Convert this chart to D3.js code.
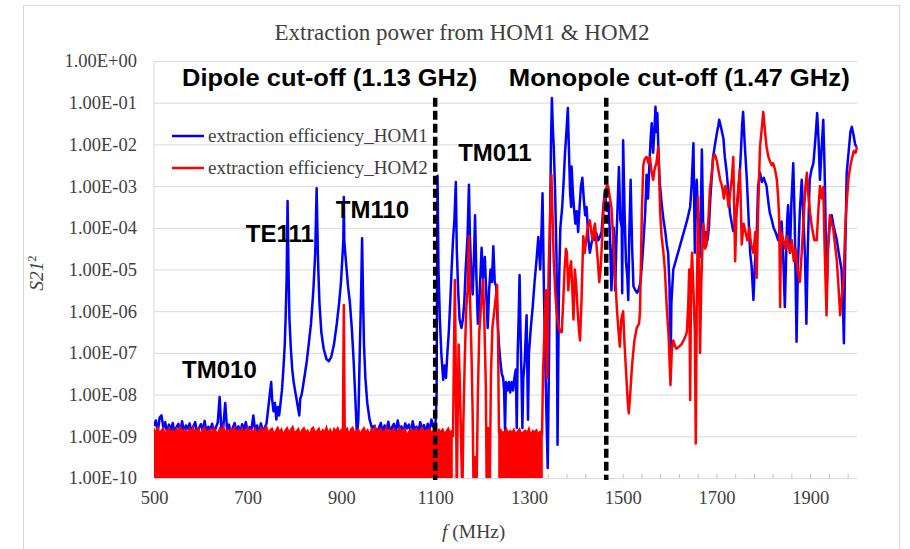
<!DOCTYPE html>
<html>
<head>
<meta charset="utf-8">
<script src="https://cdn.jsdelivr.net/npm/d3@7"></script>
<style>
  body { margin: 0; background: #fff; }
  svg { display: block; }
</style>
</head>
<body>
<svg width="910" height="549"></svg>
<script>
// S21^2 values are written as log10 exponents (e.g. -3.4 -> 4e-4)

const xTickLabels = [500, 700, 900, 1100, 1300, 1500, 1700, 1900];
const xMinorTicks = d3.range(500, 2000, 40);
const yTickExponents = [0, -1, -2, -3, -4, -5, -6, -7, -8, -9, -10];
const seriesNames = ['extraction efficiency_HOM1', 'extraction efficiency_HOM2'];
const cutoffFreqs = [1100, 1465];
const cutoffNames = ['Dipole cut-off (1.13 GHz)', 'Monopole cut-off (1.47 GHz)'];
const modeNames = ['TM010', 'TE111', 'TM110', 'TM011'];

// HOM1 noise floor, 500..740 MHz every 4 MHz
const hom1FloorLowStart = 500;
const hom1FloorLow = [
  -8.75,-8.62,-8.90,-8.55,-8.50,-8.80,-8.66,-8.93,-8.72,-8.85,
  -8.68,-8.95,-8.78,-8.70,-8.88,-8.64,-8.92,-8.74,-8.82,-8.69,
  -8.90,-8.76,-8.66,-8.94,-8.80,-8.71,-8.87,-8.63,-8.91,-8.77,
  -8.84,-8.70,-8.93,-8.79,-8.67,-8.06,-8.90,-8.75,-8.20,-8.86,
  -8.72,-8.94,-8.80,-8.68,-8.89,-8.76,-8.92,-8.71,-8.85,-8.66,
  -8.93,-8.78,-8.83,-8.50,-8.90,-8.74,-8.95,-8.69,-8.87,-8.80,
  -8.70
];

// HOM1 dipole modes region (MHz, exponent)
const hom1Modes = [
  [744,-8.3],[748,-7.9],[750,-7.7],[752,-8.1],[755,-8.4],[758,-8.2],[761,-8.6],[764,-8.3],
  [767,-8.5],[770,-8.2],[773,-7.9],[776,-7.4],[779,-6.8],[781,-6.1],[783,-5.2],[785,-3.36],
  [787,-5.0],[789,-6.2],[792,-6.9],[795,-7.4],[798,-7.7],[801,-7.9],[804,-8.1],[807,-8.3],
  [810,-8.5],[812,-8.1],[815,-8.0],[818,-7.8],[822,-7.5],[826,-7.2],[830,-6.8],[835,-6.3],
  [840,-5.5],[844,-4.6],[847,-3.05],[850,-4.8],[853,-5.8],[857,-6.5],[862,-6.9],[868,-7.15],
  [873,-7.2],[878,-7.1],[884,-6.8],[890,-6.3],[895,-5.8],[899,-5.3],[902,-4.7],[904,-4.3],
  [905,-3.26],[906,-4.3],[908,-4.6],[911,-5.0],[914,-5.4],[918,-5.8],[922,-6.4],[926,-7.2],
  [930,-8.2],[933,-9.0],[936,-8.6],[939,-7.0],[942,-5.5],[944,-4.25],[946,-5.6],[948,-6.8],
  [951,-7.6],[955,-8.2],[960,-8.6],[965,-8.8],[970,-8.75],[975,-8.9]
];

// HOM1 noise floor, 980..1100 MHz every 4 MHz
const hom1FloorHighStart = 980;
const hom1FloorHigh = [
  -8.80,-8.68,-8.92,-8.74,-8.86,-8.65,-8.94,-8.78,-8.70,-8.90,
  -8.62,-8.85,-8.76,-8.93,-8.69,-8.81,-8.72,-8.95,-8.64,-8.88,
  -8.77,-8.90,-8.66,-8.84,-8.73,-8.92,-8.70,-8.86,-8.60,-8.78,
  -8.90
];

// HOM1 above the dipole cut-off (MHz, exponent)
const hom1Upper = [
  [1103,-8.0],[1105,-2.75],[1107,-5.0],[1110,-6.2],[1113,-7.0],[1117,-7.65],[1120,-7.3],[1123,-7.6],
  [1126,-7.0],[1129,-6.5],[1132,-5.8],[1135,-5.0],[1138,-4.3],[1141,-3.8],[1144,-2.9],[1146,-4.5],
  [1149,-5.5],[1152,-6.2],[1156,-6.4],[1159,-6.2],[1162,-5.8],[1165,-5.0],[1169,-4.2],[1172,-2.97],
  [1174,-4.17],[1177,-5.1],[1180,-5.6],[1183,-4.6],[1185,-3.7],[1188,-5.2],[1191,-6.3],[1194,-5.8],
  [1197,-5.0],[1199,-4.48],[1202,-5.2],[1206,-4.7],[1209,-5.6],[1212,-6.4],[1215,-5.5],[1218,-5.0],
  [1221,-5.3],[1224,-4.44],[1227,-5.3],[1230,-5.4],[1233,-6.2],[1236,-6.8],[1239,-7.2],[1242,-7.5],
  [1245,-7.6],[1247,-7.9],[1249,-8.85],[1251,-7.7],[1254,-7.9],[1257,-7.7],[1260,-7.95],[1263,-7.7],
  [1266,-7.9],[1269,-7.6],[1272,-7.4],[1274,-8.8],[1276,-7.0],[1278,-6.2],[1280,-5.13],[1282,-6.5],
  [1284,-7.5],[1286,-8.8],[1288,-7.6],[1291,-7.2],[1293,-6.6],[1295,-6.1],[1298,-8.6],[1300,-7.0],
  [1304,-6.4],[1308,-5.9],[1312,-5.3],[1316,-4.8],[1320,-4.22],[1324,-5.0],[1327,-4.0],[1329,-3.17],
  [1332,-5.5],[1335,-7.3],[1340,-9.76],[1343,-7.0],[1345,-4.0],[1347,-2.0],[1349,-0.89],[1351,-1.6],
  [1353,-2.06],[1356,-3.2],[1359,-4.8],[1361,-9.2],[1364,-5.5],[1367,-4.0],[1371,-3.5],[1374,-2.9],
  [1377,-2.2],[1380,-1.7],[1383,-1.13],[1385,-2.0],[1388,-3.2],[1390,-3.5],[1391,-2.53],[1394,-3.2],
  [1396,-3.5],[1399,-3.9],[1402,-3.6],[1405,-4.1],[1408,-3.5],[1411,-3.0],[1414,-2.8],[1417,-3.3],
  [1420,-3.7],[1423,-3.5],[1427,-4.3],[1430,-4.6],[1433,-4.4],[1437,-4.2],[1441,-4.3],[1444,-4.13],
  [1448,-4.3],[1452,-4.2],[1455,-4.1],[1458,-3.6],[1462,-3.1],[1466,-3.6],[1470,-3.4],[1473,-4.2],
  [1476,-5.5],[1479,-4.6],[1481,-4.0],[1484,-5.5],[1487,-4.2],[1490,-3.2],[1492,-2.54],[1495,-3.8],
  [1498,-4.0],[1499,-5.57],[1501,-1.9],[1504,-3.6],[1507,-4.8],[1510,-5.2],[1512,-5.73],[1514,-4.2],
  [1517,-2.85],[1520,-4.4],[1523,-5.4],[1527,-5.5],[1531,-5.56],[1535,-5.45],[1538,-5.3],[1541,-4.9],
  [1544,-4.4],[1548,-3.65],[1551,-2.73],[1554,-3.3],[1557,-2.5],[1560,-1.8],[1562,-1.49],[1565,-2.2],
  [1568,-1.6],[1570,-1.1],[1572,-1.7],[1574,-1.25],[1576,-2.06],[1579,-2.9],[1583,-3.4],[1587,-3.8],
  [1591,-4.1],[1594,-4.4],[1597,-4.6],[1600,-5.4],[1602,-7.5],[1604,-5.8],[1608,-5.0],[1613,-4.8],
  [1618,-4.6],[1623,-4.4],[1628,-4.2],[1633,-4.0],[1638,-3.8],[1642,-3.6],[1644,-3.5],[1647,-3.0],
  [1651,-1.97],[1654,-4.6],[1656,-3.4],[1658,-2.85],[1661,-3.8],[1665,-4.7],[1667,-3.5],[1669,-2.12],
  [1672,-4.1],[1675,-4.4],[1678,-4.1],[1681,-4.3],[1684,-4.0],[1687,-3.3],[1690,-2.8],[1693,-2.3],
  [1697,-2.0],[1701,-1.73],[1704,-1.55],[1706,-1.41],[1710,-1.6],[1715,-1.86],[1718,-2.3],[1722,-2.68],
  [1726,-3.2],[1729,-3.65],[1733,-3.9],[1736,-4.08],[1740,-3.9],[1744,-3.5],[1747,-3.1],[1750,-2.68],
  [1753,-2.0],[1755,-1.5],[1757,-1.22],[1760,-1.9],[1765,-2.85],[1768,-3.6],[1772,-4.6],[1775,-4.9],
  [1779,-5.73],[1782,-4.9],[1786,-4.2],[1789,-3.0],[1793,-2.68],[1797,-2.9],[1801,-2.8],[1804,-2.9],
  [1807,-3.0],[1811,-3.4],[1814,-3.65],[1818,-3.8],[1822,-4.0],[1826,-4.1],[1829,-4.2],[1832,-4.3],
  [1835,-4.0],[1839,-3.85],[1842,-4.5],[1846,-5.9],[1849,-4.6],[1851,-3.8],[1853,-3.46],[1857,-4.6],
  [1860,-3.4],[1864,-2.45],[1867,-3.8],[1869,-5.2],[1871,-6.73],[1874,-4.9],[1878,-3.6],[1882,-2.85],
  [1885,-3.6],[1889,-4.7],[1892,-6.3],[1895,-4.5],[1899,-2.85],[1903,-2.6],[1907,-2.45],[1911,-1.9],
  [1915,-1.25],[1918,-1.9],[1921,-2.85],[1925,-2.0],[1928,-1.41],[1930,-2.2],[1932,-3.2],[1935,-5.6],
  [1938,-4.5],[1942,-3.9],[1946,-3.7],[1949,-3.9],[1953,-4.1],[1957,-4.3],[1961,-4.6],[1964,-4.8],
  [1967,-5.0],[1970,-5.8],[1972,-6.77],[1975,-4.5],[1978,-2.68],[1982,-2.2],[1986,-1.7],[1989,-1.58],
  [1993,-1.8],[1996,-2.0],[1999,-2.06]
];

// HOM2 noise floor tops (filled band), 500..1136 MHz every 4 MHz
const hom2FloorLowStart = 500;
const hom2FloorLow = [
  -8.82,-8.90,-8.78,-8.93,-8.85,-8.80,-8.95,-8.87,-8.79,-8.91,-8.84,-8.97,-8.81,-8.88,-8.76,-8.92,-8.86,-8.83,-8.94,-8.80,
  -8.89,-8.77,-8.93,-8.85,-8.81,-8.96,-8.84,-8.78,-8.90,-8.87,-8.82,-8.95,-8.79,-8.88,-8.92,-8.80,-8.86,-8.74,-8.91,-8.84,
  -8.93,-8.81,-8.87,-8.78,-8.95,-8.83,-8.89,-8.80,-8.92,-8.86,-8.77,-8.94,-8.84,-8.90,-8.81,-8.96,-8.85,-8.79,-8.88,-8.83,
  -8.75,-8.91,-8.84,-8.80,-8.93,-8.86,-8.78,-8.89,-8.82,-8.95,-8.85,-8.79,-8.90,-8.83,-8.76,-8.92,-8.87,-8.81,-8.94,-8.84,
  -8.79,-8.90,-8.85,-8.97,-8.82,-8.78,-8.91,-8.86,-8.80,-8.93,-8.84,-8.89,-8.77,-8.92,-8.83,-8.95,-8.81,-8.87,-8.79,-8.90,
  -8.84,-8.92,-8.86,-8.80,-8.95,-8.83,-8.78,-8.91,-8.87,-8.82,-8.94,-8.85,-8.79,-8.90,-8.84,-8.96,-8.81,-8.88,-8.76,-8.93,
  -8.85,-8.80,-8.92,-8.87,-8.78,-8.94,-8.83,-8.89,-8.81,-8.95,-8.86,-8.79,-8.91,-8.84,-8.82,-8.97,-8.88,-8.80,-8.93,-8.85,
  -8.81,-8.90,-8.86,-8.78,-8.94,-8.84,-8.88,-8.80,-8.92,-8.85,-8.79,-8.96,-8.83,-8.89,-8.82,-8.93,-8.87,-8.80,-8.91,-8.86
];

// HOM2 second noise floor band, 1236..1328 MHz every 4 MHz
const hom2FloorMidStart = 1236;
const hom2FloorMid = [
  -8.90,-8.84,-8.95,-8.88,-8.81,-8.93,-8.86,-8.91,-8.83,-8.97,-8.87,-8.82,
  -8.94,-8.89,-8.85,-8.92,-8.80,-8.96,-8.86,-8.90,-8.84,-8.93,-8.88,-8.95
];

// HOM2 single peak below the dipole cut-off
const hom2Spike = [[903,-9.0],[905,-5.85],[907,-9.0]];

// HOM2 above 1136 MHz (MHz, exponent)
const hom2Upper = [
  [1136,-8.86],[1138,-9.0],[1140,-7.0],[1142,-5.25],[1144,-7.5],[1146,-10.5],[1148,-8.5],[1150,-6.8],
  [1152,-7.5],[1155,-9.0],[1158,-10.5],[1160,-8.7],[1163,-7.2],[1166,-6.0],[1169,-5.5],[1172,-4.2],
  [1174,-5.6],[1177,-6.8],[1180,-8.5],[1182,-10.5],[1185,-9.5],[1188,-10.5],[1191,-8.0],[1194,-6.5],
  [1197,-6.0],[1200,-5.6],[1202,-5.25],[1205,-6.3],[1208,-7.8],[1210,-10.5],[1213,-8.8],[1216,-10.5],
  [1219,-7.5],[1222,-6.4],[1226,-6.0],[1230,-5.6],[1232,-5.37],[1234,-6.5],[1236,-8.9],[1328,-8.95],
  [1330,-7.5],[1333,-6.5],[1336,-5.5],[1339,-7.6],[1342,-5.0],[1345,-3.8],[1348,-2.73],[1350,-3.6],
  [1353,-4.8],[1356,-5.5],[1359,-6.0],[1362,-6.3],[1366,-6.5],[1370,-6.5],[1373,-5.8],[1376,-5.0],
  [1379,-4.5],[1381,-4.6],[1384,-5.5],[1387,-5.0],[1390,-4.8],[1393,-5.6],[1395,-6.2],[1398,-5.0],
  [1401,-5.4],[1404,-6.0],[1407,-6.5],[1409,-6.7],[1412,-5.8],[1414,-5.0],[1416,-4.2],[1419,-4.6],
  [1422,-4.3],[1425,-4.0],[1428,-3.9],[1430,-3.82],[1433,-4.1],[1436,-4.3],[1439,-4.0],[1441,-3.9],
  [1444,-4.4],[1447,-4.8],[1450,-5.3],[1453,-5.0],[1456,-4.3],[1459,-3.6],[1462,-3.2],[1466,-3.0],
  [1469,-3.0],[1473,-3.3],[1476,-3.5],[1480,-4.3],[1484,-5.2],[1488,-6.0],[1492,-6.6],[1494,-6.85],
  [1497,-6.2],[1501,-6.0],[1504,-6.8],[1508,-7.6],[1511,-8.2],[1513,-8.45],[1516,-8.0],[1520,-7.3],
  [1525,-6.7],[1530,-6.4],[1535,-6.3],[1537,-6.0],[1539,-4.8],[1541,-3.6],[1544,-2.5],[1547,-2.35],
  [1551,-2.3],[1555,-2.45],[1558,-2.3],[1561,-2.6],[1565,-2.85],[1568,-2.6],[1572,-2.45],[1576,-2.06],
  [1578,-2.8],[1580,-3.65],[1583,-4.2],[1587,-4.6],[1590,-5.0],[1594,-5.9],[1598,-6.6],[1602,-7.77],
  [1605,-6.9],[1608,-6.7],[1612,-6.85],[1615,-6.9],[1620,-6.85],[1625,-6.8],[1630,-6.7],[1634,-6.6],
  [1637,-6.5],[1640,-5.8],[1642,-5.0],[1644,-8.13],[1646,-5.2],[1648,-4.6],[1651,-5.5],[1654,-6.5],
  [1656,-9.17],[1658,-6.0],[1661,-3.26],[1663,-5.0],[1665,-7.0],[1668,-5.2],[1672,-3.9],[1676,-4.5],
  [1679,-4.4],[1683,-3.8],[1686,-3.1],[1690,-2.7],[1693,-2.3],[1697,-2.25],[1701,-2.4],[1704,-2.6],
  [1708,-2.85],[1712,-3.0],[1716,-3.3],[1719,-3.0],[1722,-3.1],[1726,-3.5],[1729,-3.2],[1733,-2.8],
  [1736,-2.3],[1738,-3.5],[1740,-4.8],[1743,-3.6],[1747,-3.0],[1750,-2.6],[1752,-3.4],[1754,-4.4],
  [1758,-3.9],[1762,-4.1],[1766,-4.3],[1770,-4.0],[1774,-4.4],[1779,-4.6],[1783,-4.1],[1786,-5.2],
  [1789,-3.6],[1793,-2.06],[1797,-1.6],[1800,-1.22],[1803,-1.6],[1807,-2.06],[1811,-2.3],[1814,-2.4],
  [1818,-2.5],[1821,-2.45],[1825,-2.6],[1829,-2.85],[1832,-3.3],[1834,-3.8],[1836,-5.9],[1838,-4.1],
  [1843,-4.3],[1847,-4.5],[1850,-4.2],[1854,-4.4],[1857,-4.6],[1861,-4.3],[1865,-4.8],[1869,-4.5],
  [1873,-5.0],[1878,-5.3],[1882,-4.6],[1886,-3.8],[1890,-3.0],[1893,-2.68],[1896,-3.2],[1900,-3.65],
  [1904,-4.0],[1909,-4.3],[1914,-4.3],[1918,-3.5],[1921,-3.0],[1925,-3.3],[1928,-3.02],[1931,-4.5],
  [1935,-6.1],[1938,-4.5],[1942,-3.7],[1946,-3.9],[1949,-4.0],[1953,-4.4],[1957,-4.8],[1961,-5.5],
  [1964,-6.1],[1968,-5.6],[1971,-5.3],[1975,-4.0],[1978,-3.4],[1982,-2.8],[1986,-2.5],[1990,-2.3],
  [1993,-2.16],[1997,-2.2],[2000,-2.06]
];

// ---------------------------------------------------------------

const svg = d3.select('svg');
const width = +svg.attr('width');
const height = +svg.attr('height');

const serif = "'Liberation Serif', 'Times New Roman', serif";
const sans = "'Liberation Sans', Arial, sans-serif";
const blue = '#0000ff';
const red = '#ff0000';
const gridColor = '#d9d9d9';
const textColor = '#404040';

const plot = { left: 154, right: 857, top: 61, bottom: 478 };

const x = d3.scaleLinear().domain([500, 2000]).range([plot.left, plot.right]);
const y = d3.scaleLog().domain([1e-10, 1]).range([plot.bottom, plot.top]);

const grid = (start, step, vals) => vals.map((v, i) => [start + i * step, v]);

svg.append('rect').attr('width', width).attr('height', height).attr('fill', '#fff');
// chart frame
svg.append('rect')
    .attr('x', 23.5).attr('y', 5.5)
    .attr('width', 876).attr('height', 580)
    .attr('fill', 'none').attr('stroke', gridColor);

// title
svg.append('text')
    .attr('x', 462).attr('y', 40)
    .attr('text-anchor', 'middle')
    .attr('font-family', serif).attr('font-size', 23)
    .attr('fill', textColor)
    .text('Extraction power from HOM1 & HOM2');

// horizontal gridlines
const yGrid = svg.append('g')
    .attr('transform', `translate(${plot.left},0)`)
    .call(d3.axisLeft(y)
        .tickValues(yTickExponents.map(e => Math.pow(10, e)))
        .tickSize(-(plot.right - plot.left))
        .tickFormat(''));
yGrid.select('.domain').remove();
yGrid.selectAll('line').attr('stroke', gridColor);

// y labels
const fmtExp = e => '1.00E' + (e >= 0 ? '+' : '-') + String(Math.abs(e)).padStart(2, '0');
const yAxis = svg.append('g')
    .attr('transform', `translate(${plot.left},0)`)
    .call(d3.axisLeft(y)
        .tickValues(yTickExponents.map(e => Math.pow(10, e)))
        .tickSize(0)
        .tickPadding(17)
        .tickFormat(v => fmtExp(Math.round(Math.log10(v)))));
yAxis.select('.domain').remove();
yAxis.selectAll('text')
    .attr('font-family', serif).attr('font-size', 18.5).attr('fill', textColor);

// y axis line
svg.append('line')
    .attr('x1', plot.left).attr('x2', plot.left)
    .attr('y1', plot.top).attr('y2', plot.bottom)
    .attr('stroke', gridColor);

// x axis: minor ticks + labels
const xMinor = svg.append('g')
    .attr('transform', `translate(0,${plot.bottom})`)
    .call(d3.axisBottom(x).tickValues(xMinorTicks).tickSizeInner(-4).tickSizeOuter(0).tickFormat(''));
xMinor.select('.domain').attr('stroke', gridColor);
xMinor.selectAll('line').attr('stroke', '#bfbfbf');

const xAxis = svg.append('g')
    .attr('transform', `translate(0,${plot.bottom})`)
    .call(d3.axisBottom(x).tickValues(xTickLabels).tickSize(0).tickPadding(13).tickFormat(d3.format('d')));
xAxis.select('.domain').remove();
xAxis.selectAll('text')
    .attr('font-family', serif).attr('font-size', 18.5).attr('fill', textColor);

// axis titles
const xTitle = svg.append('text')
    .attr('x', 442).attr('y', 538)
    .attr('font-family', serif).attr('font-size', 19.5).attr('fill', textColor);
xTitle.append('tspan').attr('font-style', 'italic').text('f');
xTitle.append('tspan').text(' (MHz)');

const yTitle = svg.append('text')
    .attr('transform', 'translate(43,273) rotate(-90)')
    .attr('text-anchor', 'middle')
    .attr('font-family', serif).attr('font-size', 19.5).attr('fill', textColor);
yTitle.append('tspan').attr('font-style', 'italic').text('S21');
yTitle.append('tspan').attr('font-size', 12).attr('dy', -7).text('2');

// clip for data
svg.append('clipPath').attr('id', 'plot-clip')
  .append('rect')
    .attr('x', plot.left).attr('y', plot.top - 2)
    .attr('width', plot.right - plot.left + 1).attr('height', plot.bottom - plot.top + 2);

const data = svg.append('g').attr('clip-path', 'url(#plot-clip)');

const line = d3.line()
    .x(d => x(d[0]))
    .y(d => y(Math.pow(10, d[1])));

const area = d3.area()
    .x(d => x(d[0]))
    .y0(plot.bottom + 5)
    .y1(d => y(Math.pow(10, d[1])));

// HOM1 (blue) first, HOM2 (red) on top of it
const hom1 = [].concat(
    grid(hom1FloorLowStart, 4, hom1FloorLow),
    hom1Modes,
    grid(hom1FloorHighStart, 4, hom1FloorHigh),
    hom1Upper);

data.append('path')
    .attr('d', line(hom1))
    .attr('fill', 'none')
    .attr('stroke', blue)
    .attr('stroke-width', 2.5)
    .attr('stroke-linejoin', 'round');

[grid(hom2FloorLowStart, 4, hom2FloorLow), grid(hom2FloorMidStart, 4, hom2FloorMid)].forEach(band => {
    data.append('path')
        .attr('d', area(band))
        .attr('fill', red)
        .attr('stroke', red)
        .attr('stroke-width', 1.5);
});

[hom2Spike, hom2Upper].forEach(seg => {
    data.append('path')
        .attr('d', line(seg))
        .attr('fill', 'none')
        .attr('stroke', red)
        .attr('stroke-width', 2.5)
        .attr('stroke-linejoin', 'round');
});

// cut-off markers
svg.selectAll('.cutoff')
    .data(cutoffFreqs)
  .enter().append('line')
    .attr('class', 'cutoff')
    .attr('x1', d => x(d)).attr('x2', d => x(d))
    .attr('y1', y(Math.pow(10, -0.88))).attr('y2', plot.bottom + 2)
    .attr('stroke', '#000')
    .attr('stroke-width', 4.5)
    .attr('stroke-dasharray', '9,4');

// annotations
const cutoffPos = [[560, -0.6, 295], [1257, -0.6, 341]];
cutoffNames.forEach((t, i) => {
    svg.append('text')
        .attr('x', x(cutoffPos[i][0])).attr('y', y(Math.pow(10, cutoffPos[i][1])))
        .attr('font-family', sans).attr('font-weight', 'bold').attr('font-size', 23.5)
        .attr('textLength', cutoffPos[i][2]).attr('lengthAdjust', 'spacingAndGlyphs')
        .attr('fill', '#000')
        .text(t);
});

const modePos = [[560, -7.6], [696, -4.34], [888, -3.77], [1149, -2.4]];
modeNames.forEach((t, i) => {
    svg.append('text')
        .attr('x', x(modePos[i][0])).attr('y', y(Math.pow(10, modePos[i][1])))
        .attr('font-family', sans).attr('font-weight', 'bold').attr('font-size', 24)
        .attr('fill', '#000')
        .text(t);
});

// legend
const legend = svg.append('g');
[blue, red].forEach((c, i) => {
    const ly = 136 + i * 32;
    legend.append('line')
        .attr('x1', 172).attr('x2', 204)
        .attr('y1', ly).attr('y2', ly)
        .attr('stroke', c).attr('stroke-width', 2.5);
    legend.append('text')
        .attr('x', 208).attr('y', ly + 6)
        .attr('font-family', serif).attr('font-size', 19).attr('fill', textColor)
        .text(seriesNames[i]);
});
</script>
</body>
</html>
